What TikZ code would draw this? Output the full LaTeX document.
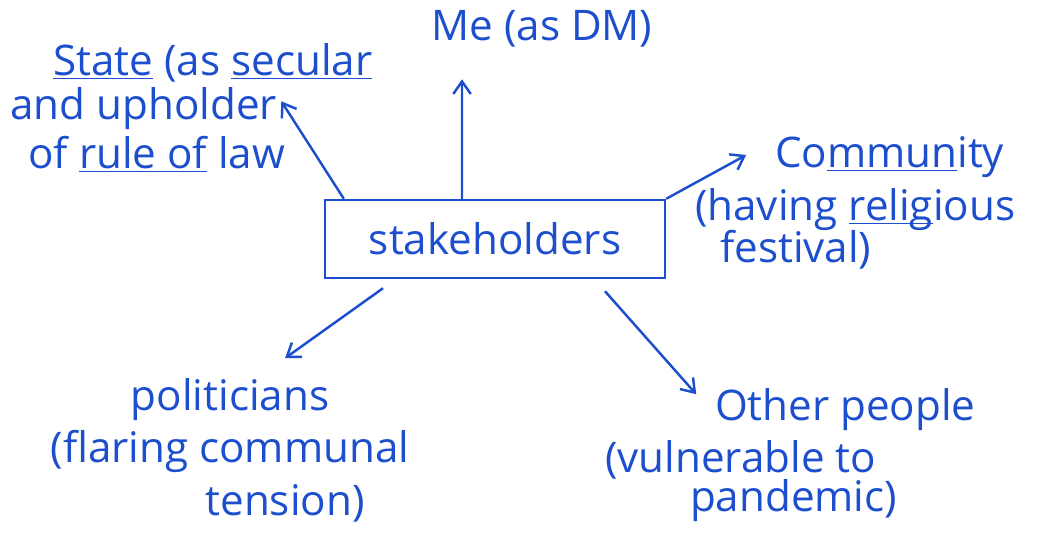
\documentclass[tikz,border=0pt]{standalone}
\usepackage{fontspec}
\setmainfont{Open Sans}
\usetikzlibrary{arrows.meta, positioning}
\definecolor{ink}{RGB}{28,78,205}
\newcommand{\uln}[1]{\underline{\smash{#1}}}

\begin{document}
\begin{tikzpicture}[
    x=0.02cm, y=-0.02cm,
    box/.style={rectangle, draw=ink, line width=1.4pt, minimum width=6.8cm, minimum height=1.56cm, text=ink, font=\fontsize{24}{30}\selectfont},
    note/.style={align=center, text=ink, inner sep=2pt, font=\fontsize{24}{30}\selectfont},
    arrow/.style={-{Straight Barb[length=2.5mm, width=3.5mm]}, line width=1.4pt, draw=ink}
]
\useasboundingbox (0,0) rectangle (1043,537);

% 1. Center box
\node[box] (stake) at (495,239) {stakeholders};

% 2. Stakeholders round the box
\node[note, above=2.95cm of stake, xshift=0.94cm] (me) {Me (as DM)};
\node[note, align=left, above left=0.45cm and -1.05cm of stake] (state) {\hspace*{0.86cm}\uln{State} (as \uln{secular}\\[-5pt] and upholder\\[-2pt] \hspace*{0.36cm}of \uln{rule of} law};
\node[note, align=left, right=0.5cm of stake, yshift=0.72cm] (comm) {\hspace*{1.6cm}Co\uln{mmun}ity\\ (having \uln{relig}ious\\[-6pt] \hspace*{0.5cm}festival)};
\node[note, below=1.9cm of stake, xshift=-5.3cm] (pol) {politicians\\ (flaring communal\\ \hspace*{2.2cm}tension)};
\node[note, align=left, below right=2.1cm and -1.3cm of stake] (other) {\hspace*{2.2cm}Other people\\ (vulnerable to\\[-8pt] \hspace*{1.7cm}pandemic)};

% 3. Arrows out of the box
\draw[arrow] ([xshift=0.4cm]stake.north west) -- ([xshift=-1.9cm, yshift=1.5cm]state.south east);
\draw[arrow] ([xshift=-0.66cm]stake.north) -- ([xshift=-1.6cm, yshift=-0.56cm]me.south);
\draw[arrow] (stake.north east) -- ([xshift=1.1cm, yshift=0.96cm]comm.west);
\draw[arrow] ([xshift=-2.24cm, yshift=-0.18cm]stake.south) -- ([xshift=1.1cm, yshift=0.32cm]pol.north);
\draw[arrow] ([xshift=2.2cm, yshift=-0.24cm]stake.south) -- ([xshift=1.9cm, yshift=-0.2cm]other.north west);

\end{tikzpicture}
\end{document}
